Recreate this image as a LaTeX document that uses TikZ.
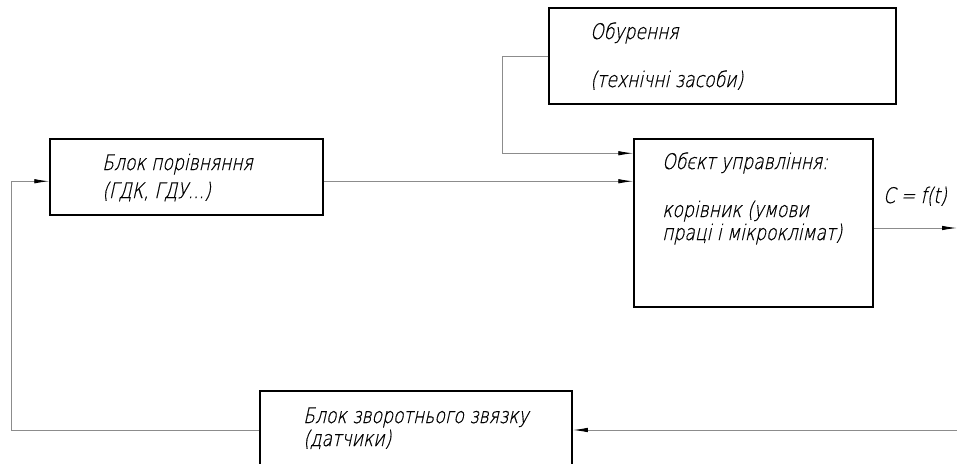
\documentclass[tikz,border=0pt]{standalone}
\usepackage{fontspec}
\usetikzlibrary{arrows.meta,calc}
\newfontfamily\gostfont[FakeSlant=0.22,FakeStretch=0.8,FakeBold=0.6]{DejaVu Sans ExtraLight}

\tikzset{
  block/.style={draw=black, line width=1.5pt, rectangle, inner sep=0pt},
  conn/.style={draw=black!45, line width=0.9pt},
  tip/.style={-{Latex[length=15pt,width=4.5pt,black]}},
  txt/.style={anchor=base west, inner sep=0pt, font=\gostfont\fontsize{21.5}{24}\selectfont}
}

\begin{document}
\begin{tikzpicture}[x=1pt,y=-1pt]
			%%%%% START %%%%%
			\useasboundingbox (0,0) rectangle (957,463);
			\clip (0,0) rectangle (957,463);
			
			% blocks
			\node[block, minimum width=273pt, minimum height=76pt] (cmp) at (186.5,177) {};
			\node[block, minimum width=347pt, minimum height=96pt] (dist) at (722.5,56) {};
			\node[block, minimum width=239pt, minimum height=168pt] (obj) at (753.5,223) {};
			\node[block, minimum width=312pt, minimum height=78pt] (fbk) at (416,430) {};
			
			% texts
			\node[txt] (cmp1) at (102,170) {Блок порівняння};
			\node[txt] (cmp2) at (102,198) {(ГДК, ГДУ...)};
			
			\node[txt] (dist1) at (590,39) {Обурення};
			\node[txt] (dist2) at (590,87) {(технічні засоби)};
			
			\node[txt] (obj1) at (662,169) {Обєкт управління:};
			\node[txt] (obj2) at (662,217) {корівник (умови};
			\node[txt] (obj3) at (662,240) {праці і мікроклімат)};
			
			\node[txt] (fbk1) at (303,423) {Блок зворотнього звязку};
			\node[txt] (fbk2) at (303,446) {(датчики)};
			
			\node[txt] (outlbl) at (883,203) {C = f(t)};
			
			% connectors
			\coordinate (in1) at ($(obj.north west)+(0,15)$);
			\coordinate (in2) at ($(obj.north west)+(0,43)$);
			\coordinate (outend) at (957,228);
			\coordinate (fbin) at (957,430);
			
			\draw[conn, tip] (cmp.east |- in2) -- (in2);
			\draw[conn, tip] (dist.west) -- ++(-46,0) |- (in1);
			\draw[conn, tip] (obj.east |- outend) -- (outend);
			\draw[conn, tip] (fbin) -- (fbk.east);
			\draw[conn, tip] (fbk.west) -- ++(-248,0) |- (cmp.west |- in2);
			
			%%%%% END %%%%%
\end{tikzpicture}
\end{document}
